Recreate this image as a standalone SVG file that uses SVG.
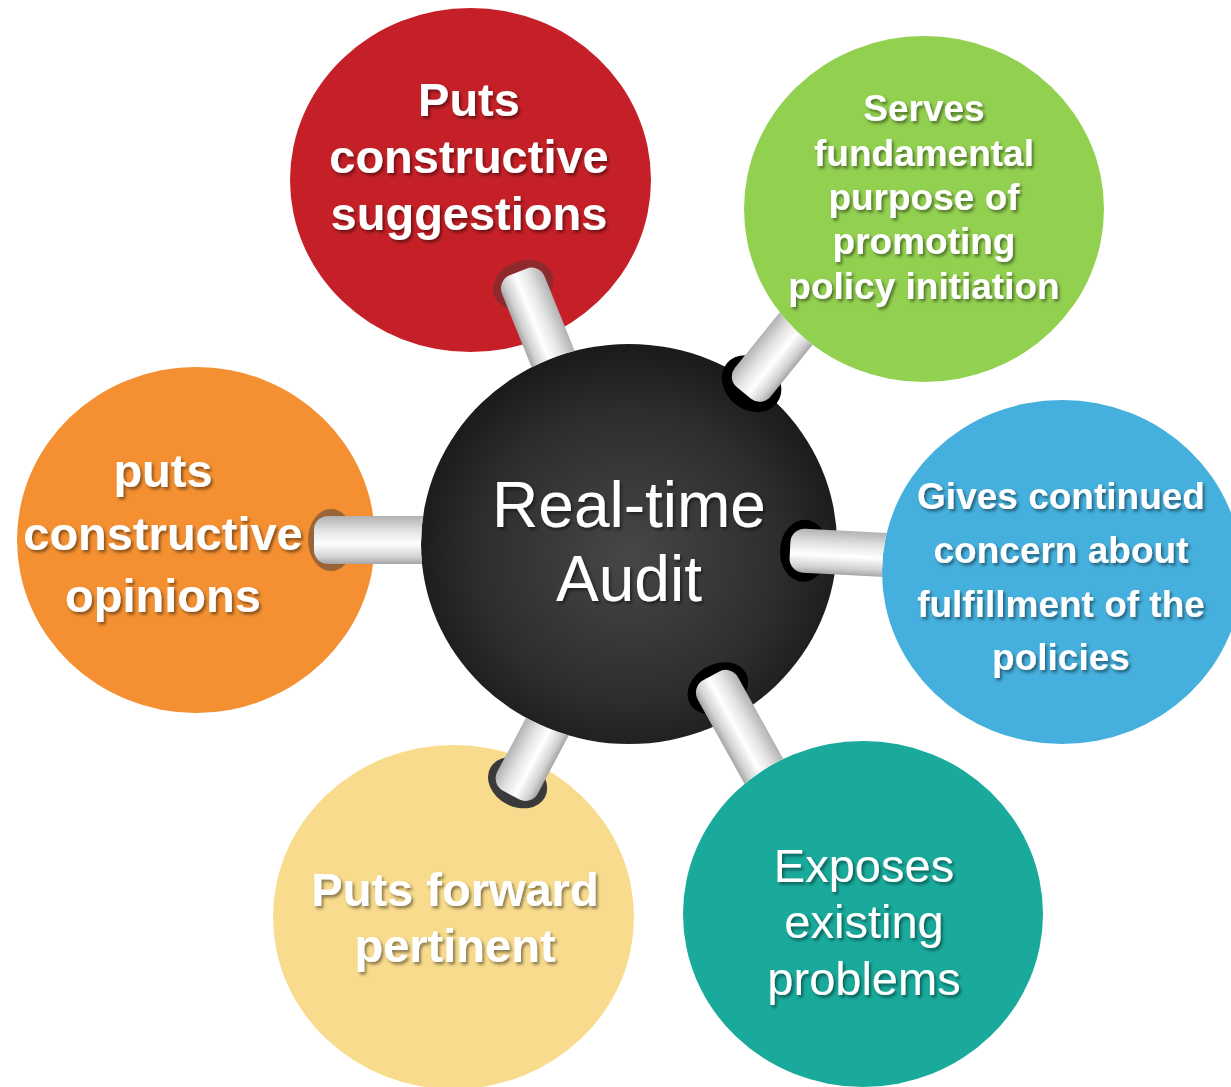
<svg xmlns="http://www.w3.org/2000/svg" width="1231" height="1087" viewBox="0 0 1231 1087">
<defs>
<style>
.t{font-family:"Liberation Sans",Arial,sans-serif;fill:#fff;text-anchor:middle;filter:url(#sh)}
.b{font-weight:bold}
.cyl{fill:url(#cg)}
</style>
<filter id="sh" x="-10%" y="-30%" width="120%" height="160%">
<feDropShadow dx="2" dy="2.5" stdDeviation="1.5" flood-color="#000" flood-opacity="0.45"/>
</filter>
<radialGradient id="cc" cx="50%" cy="53%" r="52%">
<stop offset="0" stop-color="#474747"/>
<stop offset="0.7" stop-color="#2d2d2d"/>
<stop offset="1" stop-color="#1b1b1b"/>
</radialGradient>
<linearGradient id="cg" x1="0" y1="0" x2="0" y2="1">
<stop offset="0" stop-color="#b2b2b2"/>
<stop offset="0.3" stop-color="#e2e2e2"/>
<stop offset="0.58" stop-color="#ffffff"/>
<stop offset="0.85" stop-color="#d2d2d2"/>
<stop offset="1" stop-color="#a6a6a6"/>
</linearGradient>
<mask id="mC" maskUnits="userSpaceOnUse" x="0" y="0" width="1231" height="1087">
<rect width="1231" height="1087" fill="#fff"/>
<ellipse cx="629" cy="544" rx="208" ry="200" fill="#000"/>
</mask>
<mask id="mG" maskUnits="userSpaceOnUse" x="0" y="0" width="1231" height="1087">
<rect width="1231" height="1087" fill="#fff"/>
<ellipse cx="924" cy="209" rx="180" ry="173" fill="#000"/>
</mask>
<mask id="mB" maskUnits="userSpaceOnUse" x="0" y="0" width="1231" height="1087">
<rect width="1231" height="1087" fill="#fff"/>
<ellipse cx="1062" cy="572" rx="180" ry="172" fill="#000"/>
</mask>
<mask id="mT" maskUnits="userSpaceOnUse" x="0" y="0" width="1231" height="1087">
<rect width="1231" height="1087" fill="#fff"/>
<ellipse cx="863" cy="914" rx="180" ry="173" fill="#000"/>
</mask>
</defs>

<g id="node-red">
<ellipse cx="470.5" cy="180" rx="180.5" ry="172" fill="#C52027"/>
<text class="t b" font-size="47" x="469" y="116">Puts</text>
<text class="t b" font-size="47" x="469" y="173">constructive</text>
<text class="t b" font-size="47" x="469" y="230">suggestions</text>
</g>

<g id="node-green">
<ellipse cx="924" cy="209" rx="180" ry="173" fill="#92D050"/>
<text class="t b" font-size="37" x="924" y="121">Serves</text>
<text class="t b" font-size="37" x="924" y="166">fundamental</text>
<text class="t b" font-size="37" x="924" y="210">purpose of</text>
<text class="t b" font-size="37" x="924" y="254">promoting</text>
<text class="t b" font-size="37" x="924" y="299">policy initiation</text>
</g>

<g id="node-blue">
<ellipse cx="1062" cy="572" rx="180" ry="172" fill="#45AFDD"/>
<text class="t b" font-size="37" x="1061" y="509">Gives continued</text>
<text class="t b" font-size="37" x="1061" y="563">concern about</text>
<text class="t b" font-size="37" x="1061" y="617">fulfillment of the</text>
<text class="t b" font-size="37" x="1061" y="670">policies</text>
</g>

<g id="node-orange">
<ellipse cx="196" cy="540" rx="179" ry="173" fill="#F49031"/>
<text class="t b" font-size="47" x="163" y="487">puts</text>
<text class="t b" font-size="47" x="163" y="550">constructive</text>
<text class="t b" font-size="47" x="163" y="612">opinions</text>
</g>

<g id="node-yellow">
<ellipse cx="453.5" cy="917" rx="180.5" ry="172" fill="#F8DB8C"/>
<text class="t b" font-size="47" x="455" y="906">Puts forward</text>
<text class="t b" font-size="47" x="455" y="962">pertinent</text>
</g>

<g id="node-teal">
<ellipse cx="863" cy="914" rx="180" ry="173" fill="#19AA9C"/>
<text class="t" font-size="47" x="864" y="882">Exposes</text>
<text class="t" font-size="47" x="864" y="938">existing</text>
<text class="t" font-size="47" x="864" y="995">problems</text>
</g>

<g id="node-center">
<ellipse cx="629" cy="544" rx="208" ry="200" fill="url(#cc)"/>
<text class="t" font-size="64" x="629" y="527">Real-time</text>
<text class="t" font-size="64" x="629" y="601">Audit</text>
</g>

<g id="connectors">
<g mask="url(#mC)">
<g transform="translate(518,272) rotate(68)">
<ellipse cx="14" cy="0" rx="24" ry="31" fill="#8E2A2E"/>
<rect x="0" y="-23" width="140" height="46" rx="14" class="cyl"/>
</g>
</g>
<g mask="url(#mC)">
<g transform="translate(314,540)">
<ellipse cx="17" cy="0" rx="23" ry="31" fill="#9B6436"/>
<rect x="0" y="-24" width="130" height="48" rx="14" class="cyl"/>
</g>
</g>
<g mask="url(#mC)">
<g transform="translate(511,795) rotate(-62)">
<ellipse cx="14" cy="0" rx="24" ry="31" fill="#3a3a3a"/>
<rect x="0" y="-23" width="130" height="46" rx="14" class="cyl"/>
</g>
</g>
<g mask="url(#mG)">
<g transform="translate(744,393) rotate(-51)">
<ellipse cx="12" cy="0" rx="26" ry="32" fill="#000"/>
<rect x="0" y="-23" width="140" height="46" rx="14" class="cyl"/>
</g>
</g>
<g mask="url(#mB)">
<g transform="translate(790,550) rotate(3)">
<ellipse cx="14" cy="0" rx="24" ry="31" fill="#000"/>
<rect x="0" y="-22" width="130" height="44" rx="14" class="cyl"/>
</g>
</g>
<g mask="url(#mT)">
<g transform="translate(711,676) rotate(61)">
<ellipse cx="14" cy="0" rx="24" ry="32" fill="#000"/>
<rect x="0" y="-23" width="140" height="46" rx="14" class="cyl"/>
</g>
</g>
</g>
</svg>
